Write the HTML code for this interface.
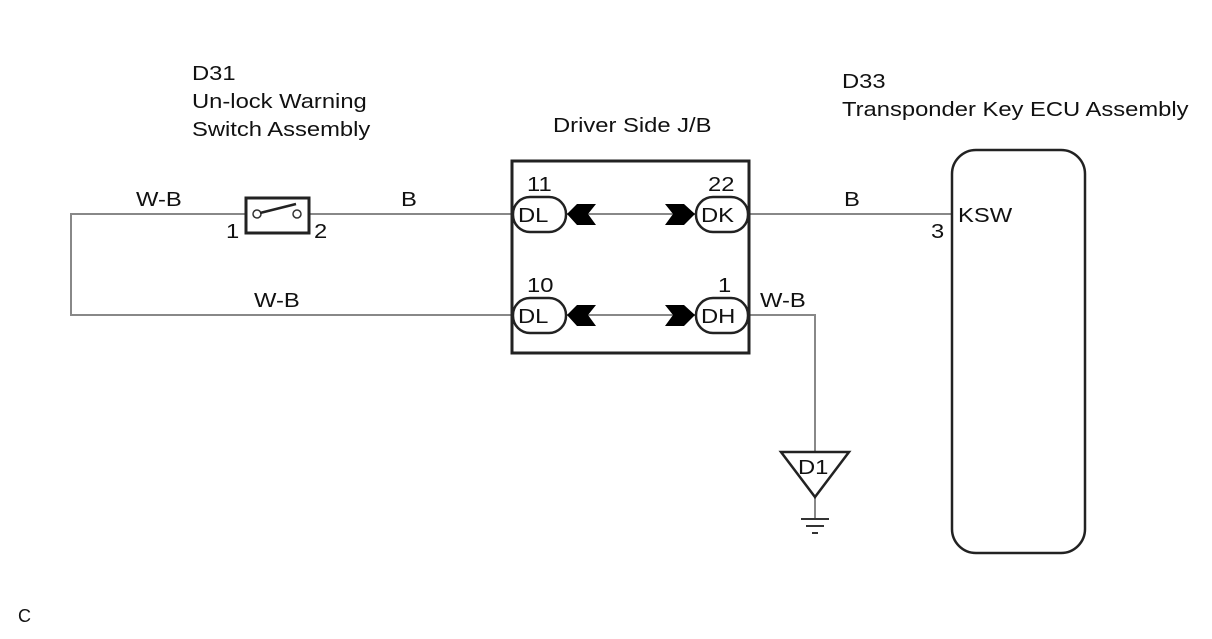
<!DOCTYPE html>
<html><head><style>body{margin:0;background:#fff}</style></head><body>
<svg width="1212" height="634" xmlns="http://www.w3.org/2000/svg" font-family="Liberation Sans, sans-serif" font-size="20.5" fill="#111">
<g stroke="#888" stroke-width="2" fill="none">
<polyline points="245,214 71,214 71,315 513,315"/>
<line x1="310" y1="214" x2="513" y2="214"/>
<line x1="566" y1="214" x2="696" y2="214"/>
<line x1="566" y1="315" x2="696" y2="315"/>
<line x1="749" y1="214" x2="951" y2="214"/>
<polyline points="749,315 815,315 815,452"/>
<line x1="815" y1="497" x2="815" y2="519"/>
</g>
<rect x="512" y="161" width="237" height="192" fill="none" stroke="#222" stroke-width="3"/>
<rect x="246" y="198" width="63" height="35" fill="none" stroke="#222" stroke-width="3"/>
<g stroke="#333" stroke-width="1.5" fill="#fff">
<circle cx="257" cy="214" r="4"/><circle cx="297" cy="214" r="4"/>
</g>
<line x1="260" y1="213" x2="296" y2="204" stroke="#222" stroke-width="2.5"/>
<g stroke="#222" stroke-width="2.5" fill="#fff">
<rect x="513" y="197" width="53" height="35" rx="17"/>
<rect x="513" y="298" width="53" height="35" rx="17"/>
<rect x="696" y="197" width="52" height="35" rx="17"/>
<rect x="696" y="298" width="52" height="35" rx="17"/>
<rect x="952" y="150" width="133" height="403" rx="24" fill="none"/>
<polygon points="781,452 849,452 815,497"/>
</g>
<g fill="#000">
<polygon points="567,214 577,204 596,204 588,214 596,225 577,225"/>
<polygon points="567,315 577,305 596,305 588,315 596,326 577,326"/>
<polygon points="665,204 684,204 695,214 684,225 665,225 673,214"/>
<polygon points="665,305 684,305 695,315 684,326 665,326 673,315"/>
</g>
<g stroke="#333" stroke-width="2">
<line x1="801" y1="519" x2="829" y2="519"/>
<line x1="806" y1="526" x2="824" y2="526"/>
<line x1="812" y1="533" x2="818" y2="533"/>
</g>
<text transform="translate(192 80) scale(1.16 1)">D31</text>
<text transform="translate(192 108) scale(1.16 1)">Un-lock Warning</text>
<text transform="translate(192 136) scale(1.16 1)">Switch Assembly</text>
<text transform="translate(553 132) scale(1.16 1)">Driver Side J/B</text>
<text transform="translate(842 88) scale(1.16 1)">D33</text>
<text transform="translate(842 116) scale(1.16 1)">Transponder Key ECU Assembly</text>
<text transform="translate(136 206) scale(1.16 1)">W-B</text>
<text transform="translate(401 206) scale(1.16 1)">B</text>
<text transform="translate(226 238) scale(1.16 1)">1</text>
<text transform="translate(314 238) scale(1.16 1)">2</text>
<text transform="translate(254 307) scale(1.16 1)">W-B</text>
<text transform="translate(527 191) scale(1.16 1)">11</text>
<text transform="translate(527 292) scale(1.16 1)">10</text>
<text transform="translate(708 191) scale(1.16 1)">22</text>
<text transform="translate(718 292) scale(1.16 1)">1</text>
<text transform="translate(518 222) scale(1.16 1)">DL</text>
<text transform="translate(518 323) scale(1.16 1)">DL</text>
<text transform="translate(701 222) scale(1.16 1)">DK</text>
<text transform="translate(701 323) scale(1.16 1)">DH</text>
<text transform="translate(760 307) scale(1.16 1)">W-B</text>
<text transform="translate(844 206) scale(1.16 1)">B</text>
<text transform="translate(931 238) scale(1.16 1)">3</text>
<text transform="translate(958 222) scale(1.16 1)">KSW</text>
<text transform="translate(798 474) scale(1.16 1)">D1</text>
<text x="18" y="622" font-size="18">C</text>
</svg>
</body></html>
